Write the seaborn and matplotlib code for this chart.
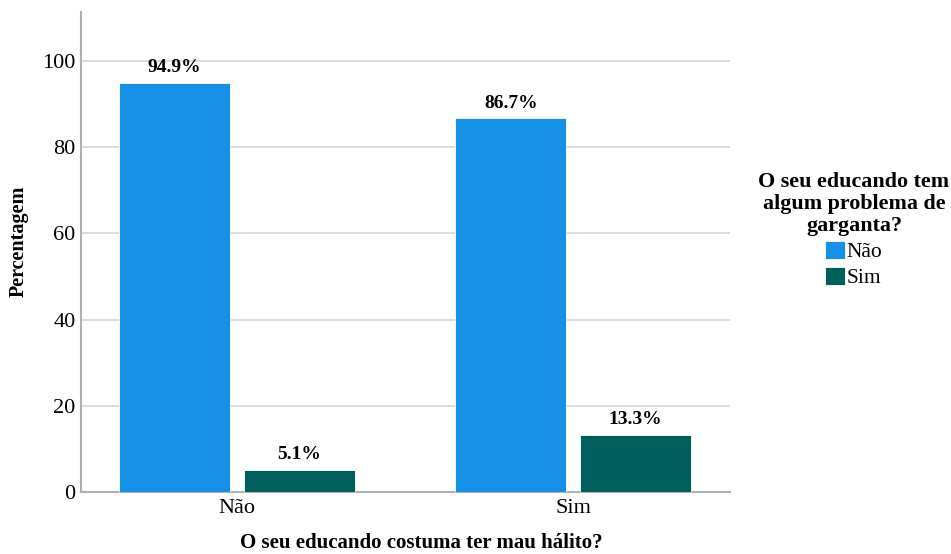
import matplotlib
import matplotlib.pyplot as plt
import pandas as pd
import seaborn as sns
matplotlib.use('Agg')

# x categories: "O seu educando costuma ter mau hálito?"
halito = ['Não', 'Não', 'Sim', 'Sim']
# hue: "O seu educando tem algum problema de garganta?"
garganta = ['Não', 'Sim', 'Não', 'Sim']
percentagem = [94.9, 5.1, 86.7, 13.3]

y_ticks = [0, 20, 40, 60, 80, 100]
palette = {'Não': '#1590e6', 'Sim': '#005e5d'}

df = pd.DataFrame({'halito': halito, 'garganta': garganta, 'pct': percentagem})

sns.set_style('white')
plt.rcParams['font.family'] = ['Liberation Serif', 'DejaVu Serif']
plt.rcParams['text.color'] = 'black'
plt.rcParams['axes.labelcolor'] = 'black'
plt.rcParams['xtick.color'] = 'black'
plt.rcParams['ytick.color'] = 'black'

fig = plt.figure(figsize=(9.51, 5.54), dpi=100)
ax = fig.add_axes([0.0852, 0.1119, 0.6824, 0.8664])

sns.barplot(data=df, x='halito', y='pct', hue='garganta', palette=palette,
            width=0.74, gap=0.108, saturation=1, errorbar=None, ax=ax,
            edgecolor='white', linewidth=0.6, zorder=3)

for container in ax.containers:
    ax.bar_label(container, fmt='%.1f%%', padding=5, fontweight='bold',
                 fontsize=14)

ax.set_xlim(-0.464, 1.467)
ax.set_ylim(0, 111.4)
ax.set_yticks(y_ticks)
ax.yaxis.grid(True, color='#d6d6d6', linewidth=1.2, zorder=0)
ax.set_axisbelow(True)
ax.tick_params(axis='both', length=0, labelsize=16, pad=5)
ax.tick_params(axis='y', pad=4)

for side in ['top', 'right']:
    ax.spines[side].set_visible(False)
for side in ['left', 'bottom']:
    ax.spines[side].set_color('#b0b0b0')
    ax.spines[side].set_linewidth(1.5)

ax.set_xlabel('O seu educando costuma ter mau hálito?', fontweight='bold',
              fontsize=15)
ax.set_ylabel('Percentagem', fontweight='bold', fontsize=14.5)
ax.xaxis.set_label_coords(0.524, -0.085)
ax.yaxis.set_label_coords(-0.08, 0.523)

handles, labels = ax.get_legend_handles_labels()
ax.legend_.remove()
leg = fig.legend(handles, labels,
                 title='O seu educando tem\nalgum problema de\ngarganta?',
                 loc='center', bbox_to_anchor=(0.898, 0.585), frameon=False,
                 fontsize=15.5, title_fontproperties={'weight': 'bold', 'size': 15.8},
                 handlelength=0.9, handleheight=0.9, handletextpad=0.1,
                 labelspacing=0.22, borderpad=0)
leg._legend_box.align = 'center'
plt.setp(leg.get_title(), multialignment='center', linespacing=1.15)

fig.savefig('out.png', dpi=100)
plt.close(fig)
